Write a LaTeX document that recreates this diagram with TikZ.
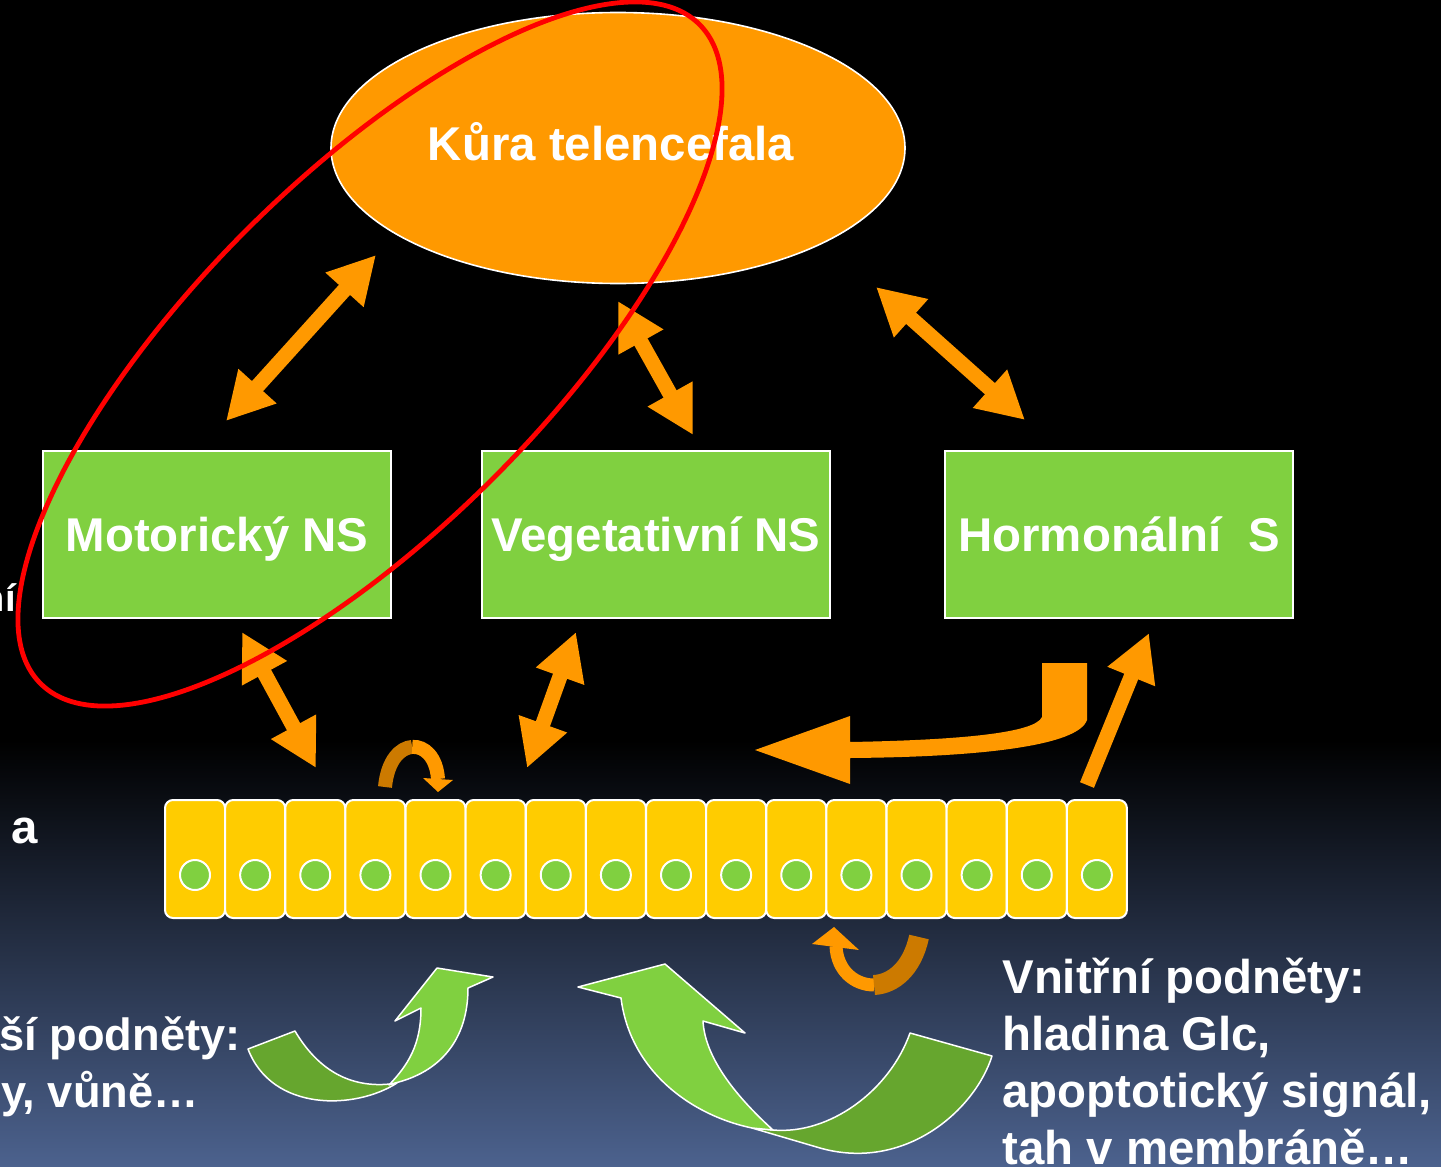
\documentclass[tikz,border=0pt]{standalone}
\usepackage{fontspec}
\setmainfont{Liberation Sans}
\usetikzlibrary{arrows.meta,shapes.geometric}
\definecolor{orA}{RGB}{255,153,0}
\definecolor{orD}{RGB}{204,122,0}
\definecolor{grA}{RGB}{128,208,64}
\definecolor{grD}{RGB}{102,166,46}
\definecolor{yel}{RGB}{255,204,0}
\definecolor{bgB}{RGB}{76,98,142}
\begin{document}
\begin{tikzpicture}[x=0.5pt,y=-0.5pt,
  lbl/.style={text=white,font=\fontsize{23.7}{28.5}\selectfont\bfseries,inner sep=0pt},
  sysbox/.style={draw=white,line width=1pt,fill=grA,minimum width=174pt,minimum height=83.5pt,
    inner sep=0pt,text=white,font=\fontsize{23.7}{28.5}\selectfont\bfseries,text height=17pt,text depth=0pt},
  cellbox/.style={draw=white,line width=1pt,fill=yel,rounded corners=4pt,minimum width=30pt,minimum height=59pt,inner sep=0pt},
  nucleus/.style={draw=white,line width=1pt,fill=grA,circle,minimum size=15pt,inner sep=0pt},
  dblarrow/.style={draw=orA,line width=7.5pt,>={Triangle[length=23.5pt,width=24pt]},<->},
  onearrow/.style={draw=orA,line width=7.5pt,>={Triangle[length=23.5pt,width=24pt]},->},
  greenband/.style={draw=white,line width=0.75pt,line join=round}
]
\useasboundingbox (0,0) rectangle (1441,1167);
\clip (0,0) rectangle (1441,1167);
% background
\fill[black] (0,0) rectangle (1441,741);
\shade[top color=black,bottom color=bgB] (0,740) rectangle (1441,1167);

% cortex
\node[draw=white,line width=0.8pt,fill=orA,ellipse,minimum width=287pt,minimum height=135.5pt,inner sep=0pt] (cortex) at (618,148) {};
\node[lbl,anchor=base] (kuratxt) at (611,160) {Kůra telencefala};

% systems
\node[sysbox] (mot) at (217,534.5) {Motorický NS};
\node[sysbox] (veg) at (656,534.5) {Vegetativní NS};
\node[sysbox] (hor) at (1119,534.5) {Hormonální\ \ S};

% arrow end points
\coordinate (a1s) at (226,421);
\coordinate (a1e) at (376,255);
\coordinate (a2s) at (618,301);
\coordinate (a2e) at (693,435);
\coordinate (a3s) at (876,287);
\coordinate (a3e) at (1025,420);
\coordinate (a4s) at (242,632);
\coordinate (a4e) at (316,768);
\coordinate (a5s) at (576,632);
\coordinate (a5e) at (527,768);
\coordinate (a6s) at (1087,785);
\coordinate (a6e) at (1149,633);

\draw[dblarrow] (a1s) -- (a1e);
\draw[dblarrow] (a2s) -- (a2e);
\draw[dblarrow] (a3s) -- (a3e);
\draw[dblarrow] (a4s) -- (a4e);
\draw[dblarrow] (a5s) -- (a5e);
\draw[onearrow] (a6s) -- (a6e);

% bent arrow from hormonal system back to cells
\fill[orA] (1042,663) -- (1087,663) -- (1087,720)
  .. controls (1078,746) and (980,757) .. (850,758) -- (850,784) -- (755,750) -- (850,716) -- (850,742)
  .. controls (960,740) and (1035,733) .. (1042,717) -- cycle;

% cells
\foreach \i in {0,...,15} {
  \node[cellbox] (cell\i) at ({195+60.125*\i},859) {};
  \node[nucleus] (nuc\i) at ({195+60.125*\i},875) {};
}

% small curved arrow above cells
\draw[orD,line width=7pt] (385,787) .. controls (387.5,760.5) and (400,747.75) .. (412.25,746.9);
\draw[orA,line width=7pt] (412.25,746.9) .. controls (424.5,746) and (436.5,757) .. (438,779);
\fill[orA] (423,778) -- (453,780) -- (438,792) -- cycle;

% small curved arrow below cells
\draw[orA,line width=6.5pt] (836,946) .. controls (837,971) and (855,985) .. (874,985);
\draw[orD,line width=10pt] (874,985) .. controls (893,984) and (912,969) .. (919,937);
\fill[orA] (834,927) -- (812,944) -- (859,950) -- cycle;

% left green arrow
\filldraw[greenband,fill=grD] (248,1049) -- (295,1031) .. controls (318,1070) and (350,1088) .. (390,1084)
  -- (397,1083) .. controls (355,1110) and (272,1112) .. (248,1049) -- cycle;
\filldraw[greenband,fill=grA] (421,1008) -- (395,1021) -- (437,968) -- (493,977) -- (468,988)
  .. controls (468,1040) and (440,1072) .. (395,1083) -- (389,1085)
  .. controls (408,1065) and (421,1045) .. (421,1008) -- cycle;

% right green arrow
\filldraw[greenband,fill=grD] (752,1128) -- (820,1148) .. controls (905,1172) and (975,1110) .. (992,1056)
  -- (910,1033) .. controls (890,1090) and (830,1135) .. (773,1130) -- cycle;
\filldraw[greenband,fill=grA] (621,998) .. controls (630,1070) and (690,1115) .. (752,1128)
  -- (773,1130) .. controls (740,1100) and (705,1060) .. (703,1021)
  -- (745,1033) -- (665,964) -- (578,987) -- cycle;

% texts
\node[lbl,font=\fontsize{19}{23}\selectfont\bfseries,anchor=base east] (tni) at (16,611) {ní};
\node[lbl,anchor=base west] (ta) at (11,843) {a};
\node[lbl,font=\fontsize{22.6}{27}\selectfont\bfseries,anchor=base east] (tl1) at (241,1050) {ší podněty:};
\node[lbl,font=\fontsize{22.6}{27}\selectfont\bfseries,anchor=base east] (tl2) at (199,1107) {y, vůně…};
\node[lbl,anchor=base west] (tr1) at (1002,993) {Vnitřní podněty:};
\node[lbl,anchor=base west] (tr2) at (1002,1050) {hladina Glc,};
\node[lbl,anchor=base west] (tr3) at (1002,1107) {apoptotický signál,};
\node[lbl,anchor=base west] (tr4) at (1002,1164) {tah v membráně…};

% red ellipse
\coordinate (redc) at (370,354);
\draw[red,line width=2.4pt,rotate around={45:(redc)}] (redc) ellipse [x radius=466,y radius=175];
\end{tikzpicture}
\end{document}
